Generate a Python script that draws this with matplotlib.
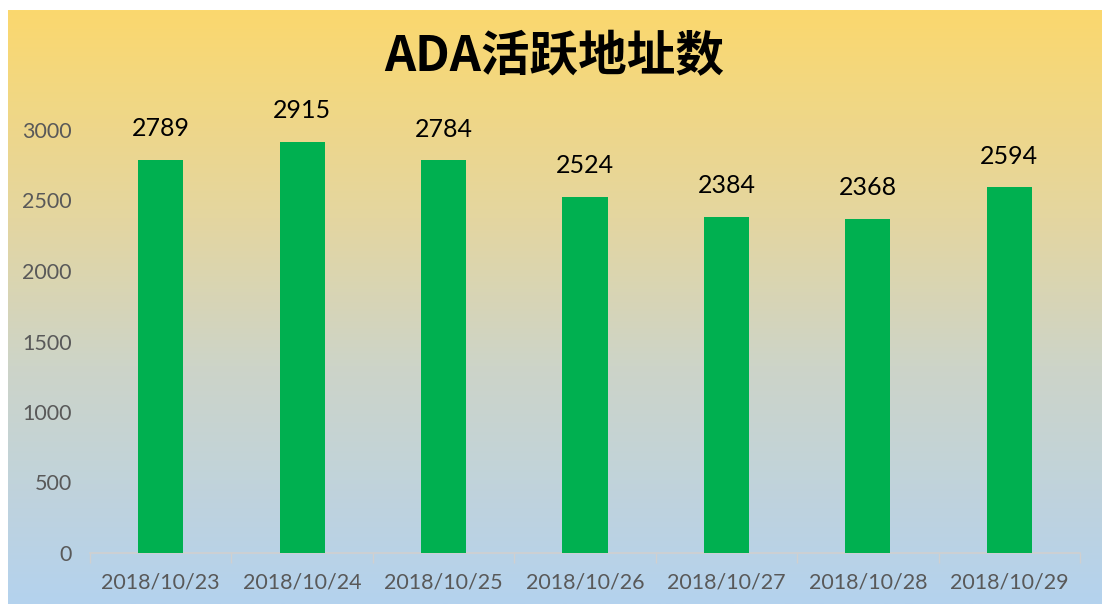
import numpy as np
import matplotlib.pyplot as plt
from matplotlib.colors import LinearSegmentedColormap

plt.rcParams['font.family'] = ['Noto Sans CJK SC', 'DejaVu Sans']

# dati
dates = ['2018/10/23', '2018/10/24', '2018/10/25', '2018/10/26',
         '2018/10/27', '2018/10/28', '2018/10/29']
values = [2789, 2915, 2784, 2524, 2384, 2368, 2594]
yticks = [0, 500, 1000, 1500, 2000, 2500, 3000]
title = 'ADA活跃地址数'

W, H = 1102, 604
fig = plt.figure(figsize=(W / 100, H / 100), dpi=100)
fig.patch.set_facecolor('white')

# sfondo sfumato
bg = fig.add_axes([8 / W, 0, 1 - 8 / W, 1 - 10 / H])
cmap = LinearSegmentedColormap.from_list('bg', [
    (0.0, (251 / 255, 216 / 255, 110 / 255)),
    (0.35, (228 / 255, 214 / 255, 160 / 255)),
    (0.6, (205 / 255, 212 / 255, 200 / 255)),
    (1.0, (180 / 255, 210 / 255, 238 / 255)),
])
grad = np.linspace(0, 1, 256).reshape(-1, 1)
bg.imshow(grad, aspect='auto', cmap=cmap, extent=[0, 1, 0, 1], origin='upper')
bg.axis('off')

# grafico
ax = fig.add_axes([90 / W, 1 - 553 / H, 990 / W, (553 - 130) / H])
ax.set_facecolor('none')
x = np.arange(len(dates))
bars = ax.bar(x, values, width=0.32, color='#00B050', zorder=3)
for xi, v in zip(x, values):
    ax.text(xi, v + 140, str(v), ha='center', va='bottom', fontsize=18,
            color='black', family='Lato', clip_on=False)

ax.set_xlim(-0.5, len(dates) - 0.5)
ax.set_ylim(0, 3000)
ax.set_yticks(yticks)
ax.set_yticklabels([str(t) for t in yticks], fontsize=15.5, color='#595959',
                   family='Lato')
ax.tick_params(axis='y', length=0, pad=13)

ax.set_xticks(x)
ax.set_xticklabels(dates, fontsize=15.5, color='#595959', family='Lato')
ax.tick_params(axis='x', length=0, pad=14)
ax.set_xticks(np.arange(-0.5, len(dates), 1), minor=True)
ax.tick_params(axis='x', which='minor', length=7, color='#D0D0D0', width=1)

for s in ['top', 'right', 'left']:
    ax.spines[s].set_visible(False)
ax.spines['bottom'].set_color('#D0D0D0')
ax.spines['bottom'].set_linewidth(1.2)

fig.text(554 / W, 1 - 57 / H, title, ha='center', va='center', fontsize=35,
         fontweight='bold', color='black')

fig.savefig('out.png', dpi=100)
